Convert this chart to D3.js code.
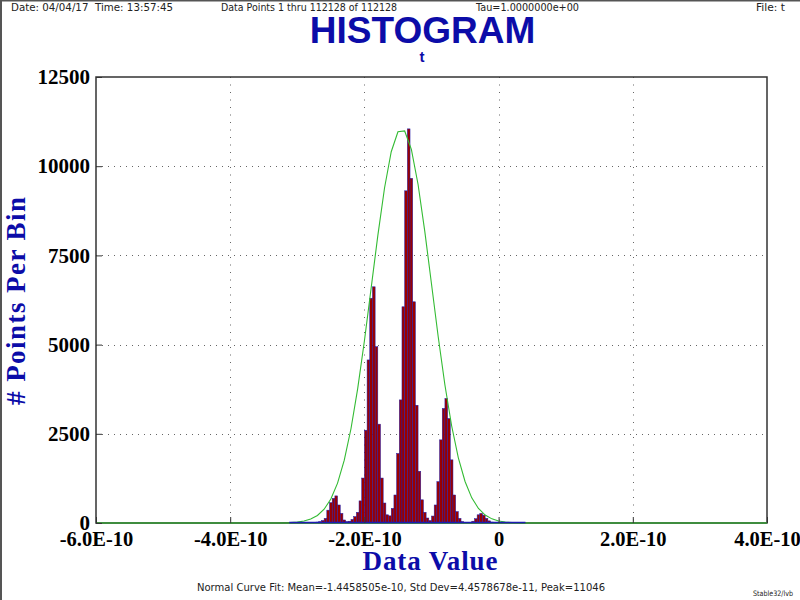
<!DOCTYPE html>
<html><head><meta charset="utf-8">
<script src="https://cdn.jsdelivr.net/npm/d3@7/dist/d3.min.js"></script>
<style>html,body{margin:0;padding:0;background:#fff;} svg{display:block;}</style>
</head><body>
<svg id="chart" width="800" height="600"></svg>
<script>
// ---------- data ----------
const binStart = -3.12e-10;
const binWidth = 4e-12;
const binCounts = [
  5, 10, 10, 15, 20, 20, 15, 15, 20, 20,
  25, 40, 70, 130, 360, 570, 690, 760, 505, 270,
  85, 40, 50, 100, 180, 300, 620, 1260, 2600, 4570,
  6300, 6620, 4940, 2770, 1260, 560, 230, 200, 410, 785,
  1950, 3450, 6060, 9310, 11046, 9660, 6200, 3300, 1450, 650,
  300, 140, 70, 195, 505, 1160, 2330, 3210, 3490, 2930,
  1770, 785, 320, 130, 40, 20, 15, 20, 50, 120,
  230, 270, 220, 130, 60, 25, 10, 10, 5, 10,
  15, 10, 10, 8, 10, 5, 5, 5
];
const curveX = [-6.0e-10,
  -3.3e-10, -3.2e-10, -3.1e-10, -3.0e-10, -2.9e-10, -2.8e-10, -2.7e-10, -2.6e-10, -2.5e-10, -2.4e-10,
  -2.3e-10, -2.2e-10, -2.1e-10, -2.0e-10, -1.9e-10, -1.8e-10, -1.7e-10, -1.6e-10, -1.5e-10, -1.4e-10,
  -1.3e-10, -1.2e-10, -1.1e-10, -1.0e-10, -0.9e-10, -0.8e-10, -0.7e-10, -0.6e-10, -0.5e-10, -0.4e-10,
  -0.3e-10, -0.2e-10, -0.1e-10, 0, 0.1e-10, 0.2e-10, 0.3e-10, 0.4e-10,
  4.0e-10];
const curveY = [0,
  1.9, 4.8, 11.3, 25.3, 54, 110, 211, 387, 674, 1118,
  1762, 2641, 3764, 5101, 6574, 8056, 9389, 10405, 10965, 10988,
  10470, 9488, 8175, 6699, 5220, 3867, 2725, 1826, 1163, 705,
  406, 222, 116, 57, 27, 12, 5, 2,
  0];
const xTickValues = [-6e-10, -4e-10, -2e-10, 0, 2e-10, 4e-10];
const xTickLabels = ["-6.0E-10", "-4.0E-10", "-2.0E-10", "0", "2.0E-10", "4.0E-10"];
const yTickValues = [0, 2500, 5000, 7500, 10000, 12500];
const yTickLabels = ["0", "2500", "5000", "7500", "10000", "12500"];
const headerTexts = ["Date: 04/04/17  Time: 13:57:45", "Data Points 1 thru 112128 of 112128", "Tau=1.0000000e+00", "File: t"];
const titleText = "HISTOGRAM";
const subtitleText = "t";
const xTitle = "Data Value";
const yTitle = "# Points Per Bin";
const fitText = "Normal Curve Fit: Mean=-1.4458505e-10, Std Dev=4.4578678e-11, Peak=11046";
const footText = "Stable32/lvb";

// ---------- layout ----------
const L = 96, R = 767, T = 77, B = 523;
const blue = "#0c0ca8";
const svg = d3.select("#chart");
svg.append("rect").attr("width", 800).attr("height", 600).attr("fill", "#fff");
// window frame
svg.append("line").attr("x1", 0).attr("y1", 0.5).attr("x2", 800).attr("y2", 0.5).attr("stroke", "#555").attr("stroke-width", 2);
svg.append("line").attr("x1", 1).attr("y1", 0).attr("x2", 1).attr("y2", 600).attr("stroke", "#555").attr("stroke-width", 2);

const x = d3.scaleLinear().domain([-6e-10, 4e-10]).range([L, R]);
const y = d3.scaleLinear().domain([0, 12500]).range([B, T]);

// grid
const grid = svg.append("g").attr("stroke", "#666").attr("stroke-width", 1);
grid.selectAll("line.gy").data(yTickValues.slice(1, -1)).enter().append("line")
  .attr("x1", L).attr("x2", R).attr("y1", d => Math.round(y(d)) + 0.5).attr("y2", d => Math.round(y(d)) + 0.5)
  .attr("stroke-dasharray", "1,5");
grid.selectAll("line.gx").data(xTickValues.slice(1, -1)).enter().append("line")
  .attr("y1", T).attr("y2", B).attr("x1", d => Math.round(x(d)) + 0.5).attr("x2", d => Math.round(x(d)) + 0.5)
  .attr("stroke-dasharray", "1,6.5");

// bars
const bars = svg.append("g");
bars.selectAll("rect").data(binCounts).enter().append("rect")
  .attr("x", (d, i) => x(binStart + i * binWidth))
  .attr("width", (d, i) => x(binStart + (i + 1) * binWidth) - x(binStart + i * binWidth))
  .attr("y", d => y(d))
  .attr("height", d => Math.max(0.01, y(0) - y(d)))
  .attr("fill", "#9a0000")
  .attr("stroke", "#1c1cb0")
  .attr("stroke-width", 0.5);

// normal curve
const pts = curveX.map((v, i) => [x(v), y(curveY[i])]);
svg.append("path").attr("d", d3.line()(pts)).attr("fill", "none")
  .attr("stroke", "#33bb33").attr("stroke-width", 1.1);

// frame
svg.append("rect").attr("x", L).attr("y", T).attr("width", R - L).attr("height", B - T)
  .attr("fill", "none").attr("stroke", "#333").attr("stroke-width", 1.5);
svg.append("line").attr("x1", L).attr("x2", R).attr("y1", B).attr("y2", B).attr("stroke", "#33bb33").attr("stroke-width", 1.2);

// blue baseline under bins
svg.append("line")
  .attr("x1", x(binStart)).attr("x2", x(binStart + binCounts.length * binWidth))
  .attr("y1", B - 0.5).attr("y2", B - 0.5).attr("stroke", "#1c1cb0").attr("stroke-width", 1.5);

// axes
const fmtX = d => xTickLabels[xTickValues.indexOf(d)];
const fmtY = d => yTickLabels[yTickValues.indexOf(d)];
const ax = svg.append("g").attr("transform", `translate(0,${B})`)
  .call(d3.axisBottom(x).tickValues(xTickValues).tickFormat(fmtX).tickSize(-6).tickPadding(8));
const ay = svg.append("g").attr("transform", `translate(${L},0)`)
  .call(d3.axisLeft(y).tickValues(yTickValues).tickFormat(fmtY).tickSize(-6).tickPadding(6));
[ax, ay].forEach(g => {
  g.select(".domain").remove();
  g.selectAll(".tick line").attr("stroke", "#333").attr("stroke-width", 1);
  g.selectAll(".tick text").attr("font-family", "'Liberation Serif', 'Times New Roman', serif")
    .attr("font-weight", "bold").attr("font-size", 21).attr("fill", "#000");
});
ax.selectAll(".tick text").attr("font-size", 20.5);

// titles
svg.append("text").attr("x", 422.5).attr("y", 43).attr("text-anchor", "middle")
  .attr("font-family", "'Liberation Sans', Arial, sans-serif").attr("font-weight", "bold")
  .attr("font-size", 37).attr("fill", blue).text(titleText);
svg.append("text").attr("x", 422).attr("y", 62).attr("text-anchor", "middle")
  .attr("font-family", "'Liberation Sans', Arial, sans-serif").attr("font-weight", "bold")
  .attr("font-size", 15).attr("fill", blue).text(subtitleText);
svg.append("text").attr("x", 430).attr("y", 570).attr("text-anchor", "middle")
  .attr("font-family", "'Liberation Serif', 'Times New Roman', serif").attr("font-weight", "bold")
  .attr("font-size", 27).attr("fill", blue).attr("textLength", 135).attr("lengthAdjust", "spacing")
  .text(xTitle);
svg.append("text").attr("transform", "translate(25,301) rotate(-90)").attr("text-anchor", "middle")
  .attr("font-family", "'Liberation Serif', 'Times New Roman', serif").attr("font-weight", "bold")
  .attr("font-size", 27).attr("fill", blue).attr("textLength", 208).attr("lengthAdjust", "spacing")
  .text(yTitle);

// header / footer small texts
const small = (t, xx, yy, len, size) => svg.append("text").attr("x", xx).attr("y", yy)
  .attr("font-family", "'DejaVu Sans', sans-serif").attr("font-size", size).attr("fill", "#222")
  .attr("textLength", len).attr("lengthAdjust", "spacingAndGlyphs").style("white-space", "pre").text(t);
small(headerTexts[0], 11, 11, 162, 10);
small(headerTexts[1], 221, 11, 176, 10);
small(headerTexts[2], 476, 11, 103, 10);
small(headerTexts[3], 756, 11, 29, 10);
small(fitText, 197, 591, 408, 10);
small(footText, 753, 596, 40, 7.5);
</script>
</body></html>
